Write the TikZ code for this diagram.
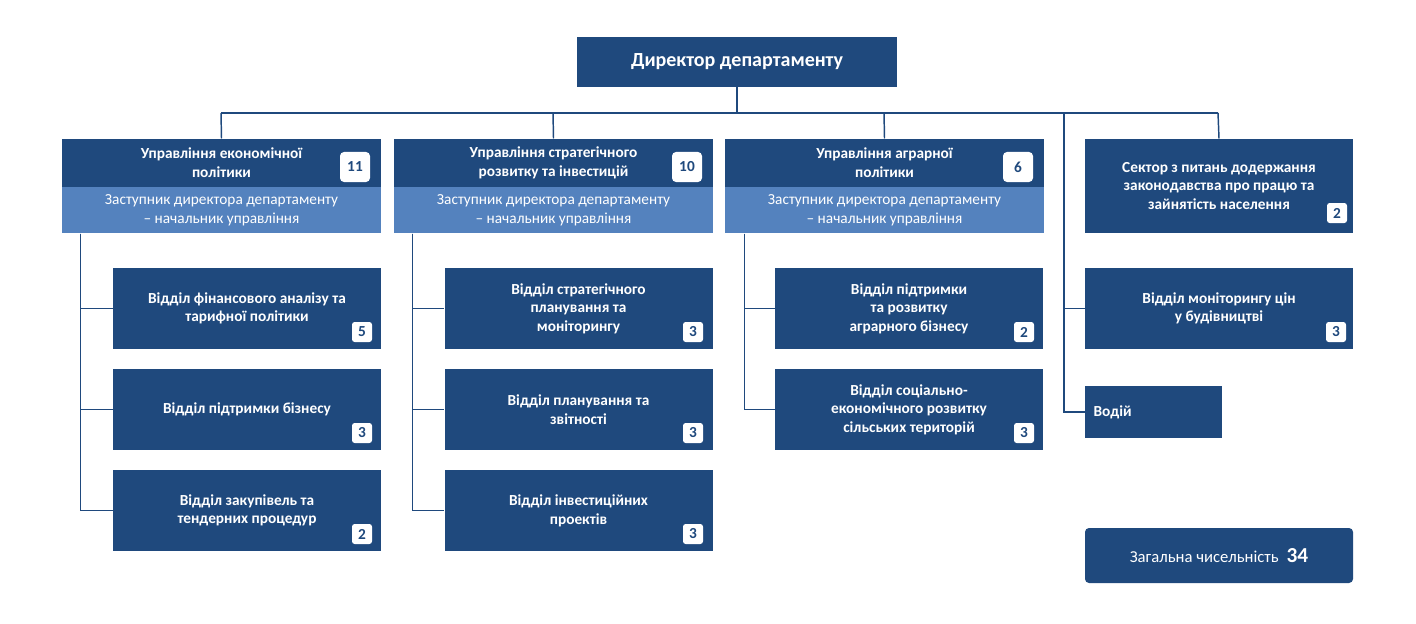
\documentclass[tikz,border=0pt]{standalone}
\usepackage{fontspec}
\setmainfont{Carlito}
\definecolor{darkblue}{RGB}{31,73,125}
\definecolor{bandblue}{RGB}{84,130,190}
\tikzset{every picture/.style={line width=0.75pt}}
\tikzset{
  unit/.style={fill=darkblue, text=white, align=center, inner sep=0pt,
    font=\fontsize{11.5}{14}\selectfont\bfseries},
  band/.style={fill=bandblue, text=white, align=center, inner sep=0pt,
    minimum width=239.25pt, minimum height=34.5pt, font=\fontsize{11.5}{14}\selectfont},
  head/.style={unit, minimum width=239.25pt, minimum height=36pt},
  dept/.style={unit, minimum width=201pt, minimum height=60.75pt},
  badge/.style={fill=white, rounded corners=2pt, text=darkblue, inner sep=0pt,
    minimum size=15pt, font=\fontsize{11.5}{14}\selectfont\bfseries},
  bigbadge/.style={badge, minimum size=22.5pt, rounded corners=3pt},
  link/.style={draw=darkblue, line width=1.1pt}
}
\begin{document}
\begin{tikzpicture}[x=0.75pt,y=0.75pt,yscale=-1,xscale=1]
\useasboundingbox (0,0) rectangle (1416,624);
% director and bus
\node[unit, minimum width=240pt, minimum height=37.5pt, font=\fontsize{15}{18}\selectfont\bfseries] (dir) at (737,62) {Директор департаменту};
\coordinate (b0) at (737,113);
\coordinate (b1) at (221,113);
\coordinate (b2) at (553,113);
\coordinate (b3) at (884,113);
\coordinate (b4) at (1064,113);
\coordinate (b5) at (1218,113);
\draw[link] (dir.south) -- (b0);
\draw[link] (b1) -- (b5);

% headers
\node[head] (h1) at (221.5,163) {Управління економічної\\політики};
\node[band] (h1b) at (221.5,210) {Заступник директора департаменту\\– начальник управління};
\node[bigbadge] at (355,167) {11};
\node[head] (h2) at (553.5,163) {Управління стратегічного\\розвитку та інвестицій};
\node[band] (h2b) at (553.5,210) {Заступник директора департаменту\\– начальник управління};
\node[bigbadge] at (687,167) {10};
\node[head] (h3) at (884.5,163) {Управління аграрної\\політики};
\node[band] (h3b) at (884.5,210) {Заступник директора департаменту\\– начальник управління};
\node[bigbadge] at (1018,167) {6};
\node[unit, minimum width=201pt, minimum height=70.5pt] (sec) at (1219,186) {Сектор з питань додержання\\законодавства про працю та\\зайнятість населення};
\node[badge] at (1337,213) {2};
\draw[link] (b1) -- (h1.north);
\draw[link] (b2) -- (h2.north);
\draw[link] (b3) -- (h3.north);
\draw[link] (b5) -- (sec.north);

% column 1
\node[dept] (d11) at (247,308.5) {Відділ фінансового аналізу та\\тарифної політики};
\node[badge] at (362,332) {5};
\node[dept] (d12) at (247,409.5) {Відділ підтримки бізнесу};
\node[badge] at (362,433) {3};
\node[dept] (d13) at (247,510.5) {Відділ закупівель та\\тендерних процедур};
\node[badge] at (362,534) {2};
\draw[link] ([xshift=14.25pt]h1b.south west) |- (d11.west);
\draw[link] ([xshift=14.25pt]h1b.south west) |- (d12.west);
\draw[link] ([xshift=14.25pt]h1b.south west) |- (d13.west);

% column 2
\node[dept] (d21) at (578.5,308.5) {Відділ стратегічного\\планування та\\моніторингу};
\node[badge] at (693,332) {3};
\node[dept] (d22) at (578.5,409.5) {Відділ планування та\\звітності};
\node[badge] at (693,433) {3};
\node[dept] (d23) at (578.5,510.5) {Відділ інвестиційних\\проектів};
\node[badge] at (693,534) {3};
\draw[link] ([xshift=14.25pt]h2b.south west) |- (d21.west);
\draw[link] ([xshift=14.25pt]h2b.south west) |- (d22.west);
\draw[link] ([xshift=14.25pt]h2b.south west) |- (d23.west);

% column 3
\node[dept] (d31) at (909,308.5) {Відділ підтримки\\та розвитку\\аграрного бізнесу};
\node[badge] at (1024,332) {2};
\node[dept] (d32) at (909,409.5) {Відділ соціально-\\економічного розвитку\\сільських територій};
\node[badge] at (1024,433) {3};
\draw[link] ([xshift=15pt]h3b.south west) |- (d31.west);
\draw[link] ([xshift=15pt]h3b.south west) |- (d32.west);

% column 4
\node[dept] (d41) at (1219,308.5) {Відділ моніторингу цін\\у будівництві};
\node[badge] at (1336,332) {3};
\node[unit, minimum width=102.75pt, minimum height=39pt, text width=90pt, align=left] (drv) at (1153.5,412) {Водій};
\draw[link] (b4) |- (d41.west);
\draw[link] (b4) |- (drv.west);

% total
\node[unit, rounded corners=3pt, minimum width=201pt, minimum height=41.25pt] (tot) at (1219,555.5)
  {{\mdseries\fontsize{12.5}{14}\selectfont Загальна чисельність}\hspace{6pt}{\fontsize{16}{18}\selectfont 34}};
\end{tikzpicture}
\end{document}
